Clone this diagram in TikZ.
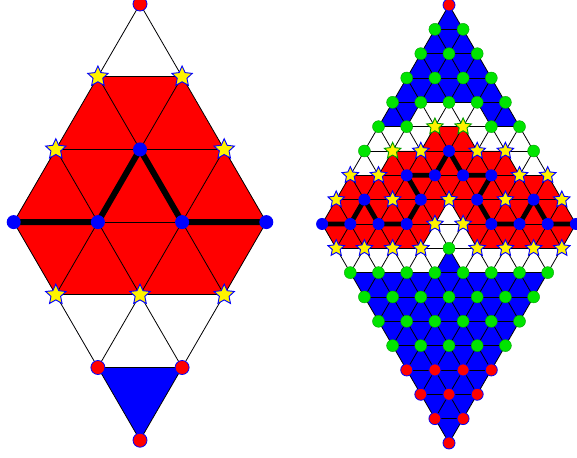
\documentclass[tikz,border=0pt]{standalone}
\usetikzlibrary{shapes.geometric}

\definecolor{lime}{RGB}{0,228,0}

\tikzset{
  edge/.style={black, line width=0.6pt},
  trail/.style={black, line width=\trailw, line cap=round, line join=round},
  ptb/.style={circle, fill=blue, inner sep=0pt, minimum size=\dotsz},
  ptg/.style={circle, fill=lime, draw=lime!70!black, line width=0.3pt, inner sep=0pt, minimum size=\dotsz},
  ptr/.style={circle, fill=red, draw=blue, line width=0.6pt, inner sep=0pt, minimum size=\dotsz},
  pts/.style={star, star points=5, star point ratio=2.1, fill=yellow, draw=blue, line width=0.7pt, inner sep=0pt, minimum size=\starsz},
  ptt/.style={pts, draw=lime!70!black}
}

% one cell of the lattice around a vertex
\newcommand\hexcell[2]{\fill[#1] (#2) ++(\dx,0) -- ++(-\dx/2,\dy) -- ++(-\dx,0) -- ++(-\dx/2,-\dy) -- ++(\dx/2,-\dy) -- ++(\dx,0) -- cycle;}

% #1 prefix, #2 size, #3 vertex types by row, #4 thick path
\newcommand\trigrid[4]{%
  \pgfmathtruncatemacro\nn{2*#2}
  \pgfmathtruncatemacro\lastr{\nn-1}
  \foreach \ri in {0,...,\nn} {
    \pgfmathtruncatemacro\rw{\ri<=#2 ? \ri : \nn-\ri}
    \foreach \ci in {0,...,\rw}
      \coordinate (#1-\ri-\ci) at ({\cx+(\ci-\rw/2)*\dx},{\ty+\ri*\dy});
  }
  % cells
  \begin{scope}
    \clip (#1-0-0) -- (#1-#2-#2) -- (#1-\nn-0) -- (#1-#2-0) -- cycle;
    \fill[blue] (#1-0-0) -- (#1-#2-#2) -- (#1-\nn-0) -- (#1-#2-0) -- cycle;
    \foreach \ri/\row in {#3}
      \foreach \vt [count=\ci from 0] in \row {
        \if\vt s\hexcell{white}{#1-\ri-\ci}\fi
        \if\vt t\hexcell{white}{#1-\ri-\ci}\fi
      }
    \foreach \ri/\row in {#3}
      \foreach \vt [count=\ci from 0] in \row {
        \if\vt b\hexcell{red}{#1-\ri-\ci}\fi
      }
  \end{scope}
  % lattice lines
  \foreach \k in {0,...,#2} {
    \pgfmathtruncatemacro\ka{#2+\k}
    \pgfmathtruncatemacro\kb{#2-\k}
    \draw[edge] (#1-\k-\k) -- (#1-\ka-0);
    \draw[edge] (#1-\k-0) -- (#1-\ka-\kb);
  }
  \foreach \ri in {1,...,\lastr} {
    \pgfmathtruncatemacro\rw{\ri<=#2 ? \ri : \nn-\ri}
    \draw[edge] (#1-\ri-0) -- (#1-\ri-\rw);
  }
  \draw[trail] #4;
  % vertex marks
  \foreach \ri/\row in {#3}
    \foreach \vt [count=\ci from 0] in \row
      \node[pt\vt] (#1m-\ri-\ci) at (#1-\ri-\ci) {};
}

\begin{document}
\begin{tikzpicture}[x=0.75pt, y=-0.75pt]
\useasboundingbox (0,0) rectangle (577,457);

% coarse lattice
\begin{scope}
  \def\cx{140}\def\ty{4}\def\dx{84.2}\def\dy{72.7}
  \def\dotsz{10.5pt}\def\starsz{16pt}\def\trailw{4.5pt}
  \trigrid{L}{3}{0/{r},1/{s,s},2/{s,b,s},3/{b,b,b,b},4/{s,s,s},5/{r,r},6/{r}}
    {(L-3-0) -- (L-3-1) -- (L-2-1) -- (L-3-2) -- (L-3-3)}
\end{scope}

% refined lattice
\begin{scope}
  \def\cx{449}\def\ty{5}\def\dx{28.2}\def\dy{24.33}
  \def\dotsz{9pt}\def\starsz{13pt}\def\trailw{3.6pt}
  \trigrid{R}{9}{0/{r},1/{g,g},2/{g,g,g},3/{g,g,g,g},4/{g,g,g,g,g},5/{g,g,t,t,g,g},
    6/{g,t,s,b,s,s,g},7/{s,s,b,b,b,b,s,s},8/{s,b,s,b,s,b,s,b,s},9/{b,b,b,b,s,s,b,b,b,b},
    10/{s,s,s,s,g,s,s,s,s},11/{g,g,g,g,g,g,g,g},12/{g,g,g,g,g,g,g},13/{g,g,g,g,g,g},
    14/{g,g,g,g,g},15/{r,r,r,r},16/{r,r,r},17/{r,r},18/{r}}
    {(R-9-0) -- (R-9-1) -- (R-8-1) -- (R-9-2) -- (R-9-3) -- (R-8-3) -- (R-7-2) -- (R-7-3)
     -- (R-6-3) -- (R-7-4) -- (R-7-5) -- (R-8-5) -- (R-9-6) -- (R-9-7) -- (R-8-7) -- (R-9-8) -- (R-9-9)}
\end{scope}
\end{tikzpicture}
\end{document}
